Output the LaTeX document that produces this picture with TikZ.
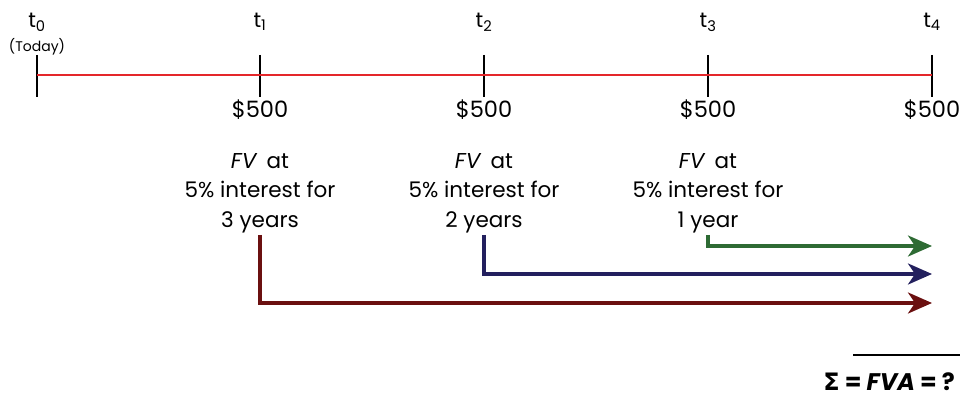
\documentclass[tikz,border=0pt]{standalone}
\usepackage{fontspec}
\setmainfont{Poppins}
\newfontfamily\greekfont{DejaVu Sans}
\usetikzlibrary{arrows.meta}
\definecolor{lineRed}{RGB}{228,38,42}
\definecolor{fvGreen}{RGB}{46,107,52}
\definecolor{fvBlue}{RGB}{35,32,94}
\definecolor{fvRed}{RGB}{107,16,16}
\tikzset{
  timetick/.style={line width=1.3pt},
  cash/.style={font=\fontsize{22.5}{26}\selectfont},
  fvtext/.style={align=center,font=\fontsize{21.5}{29.5}\selectfont,inner sep=2pt},
  fvarrow/.style={line width=3.4pt,-{Stealth[length=24pt,width=21pt,inset=7pt]}}
}
\begin{document}
\begin{tikzpicture}[x=1pt,y=-1pt]
\useasboundingbox (0,0) rectangle (960,398);

% time line and periods
\foreach \i/\x in {0/37,1/260,2/484,3/708,4/932} {
  \coordinate (tick\i) at (\x,75);
  \draw[timetick] ([yshift=20pt]tick\i) -- ([yshift=-22pt]tick\i);
  \node[font=\fontsize{21}{24}\selectfont] (t\i) at (\x,22) {t\textsubscript{\i}};
}
\draw[lineRed,line width=1.6pt] (tick0) -- (tick4);
\node[font=\fontsize{14}{16}\selectfont] (today) at (37,47) {(Today)};

% payments
\foreach \i in {1,...,4}
  \node[cash] (pay\i) at ([yshift=-35pt]tick\i) {\$500};

\node[fvtext] (fv1) at (260,193) {\textit{FV}\, at\\5\% interest for\\3 years};
\node[fvtext] (fv2) at (484,193) {\textit{FV}\, at\\5\% interest for\\2 years};
\node[fvtext] (fv3) at (708,193) {\textit{FV}\, at\\5\% interest for\\1 year};

% compounding to t4
\coordinate (end3) at (932,246);
\coordinate (end2) at (932,274);
\coordinate (end1) at (932,303);
\draw[fvarrow,fvGreen] (fv3.south) |- (end3);
\draw[fvarrow,fvBlue] (fv2.south) |- (end2);
\draw[fvarrow,fvRed] (fv1.south) |- (end1);

% sum
\coordinate (sumleft) at (853,355);
\coordinate (sumright) at (960,355);
\draw[line width=1.3pt] (sumleft) -- (sumright);
\node[anchor=east,font=\fontsize{24}{26}\selectfont\bfseries,inner sep=0pt] (fva) at (955,382)
  {{\greekfont\bfseries Σ} = \textit{FVA} = ?};
\end{tikzpicture}
\end{document}
